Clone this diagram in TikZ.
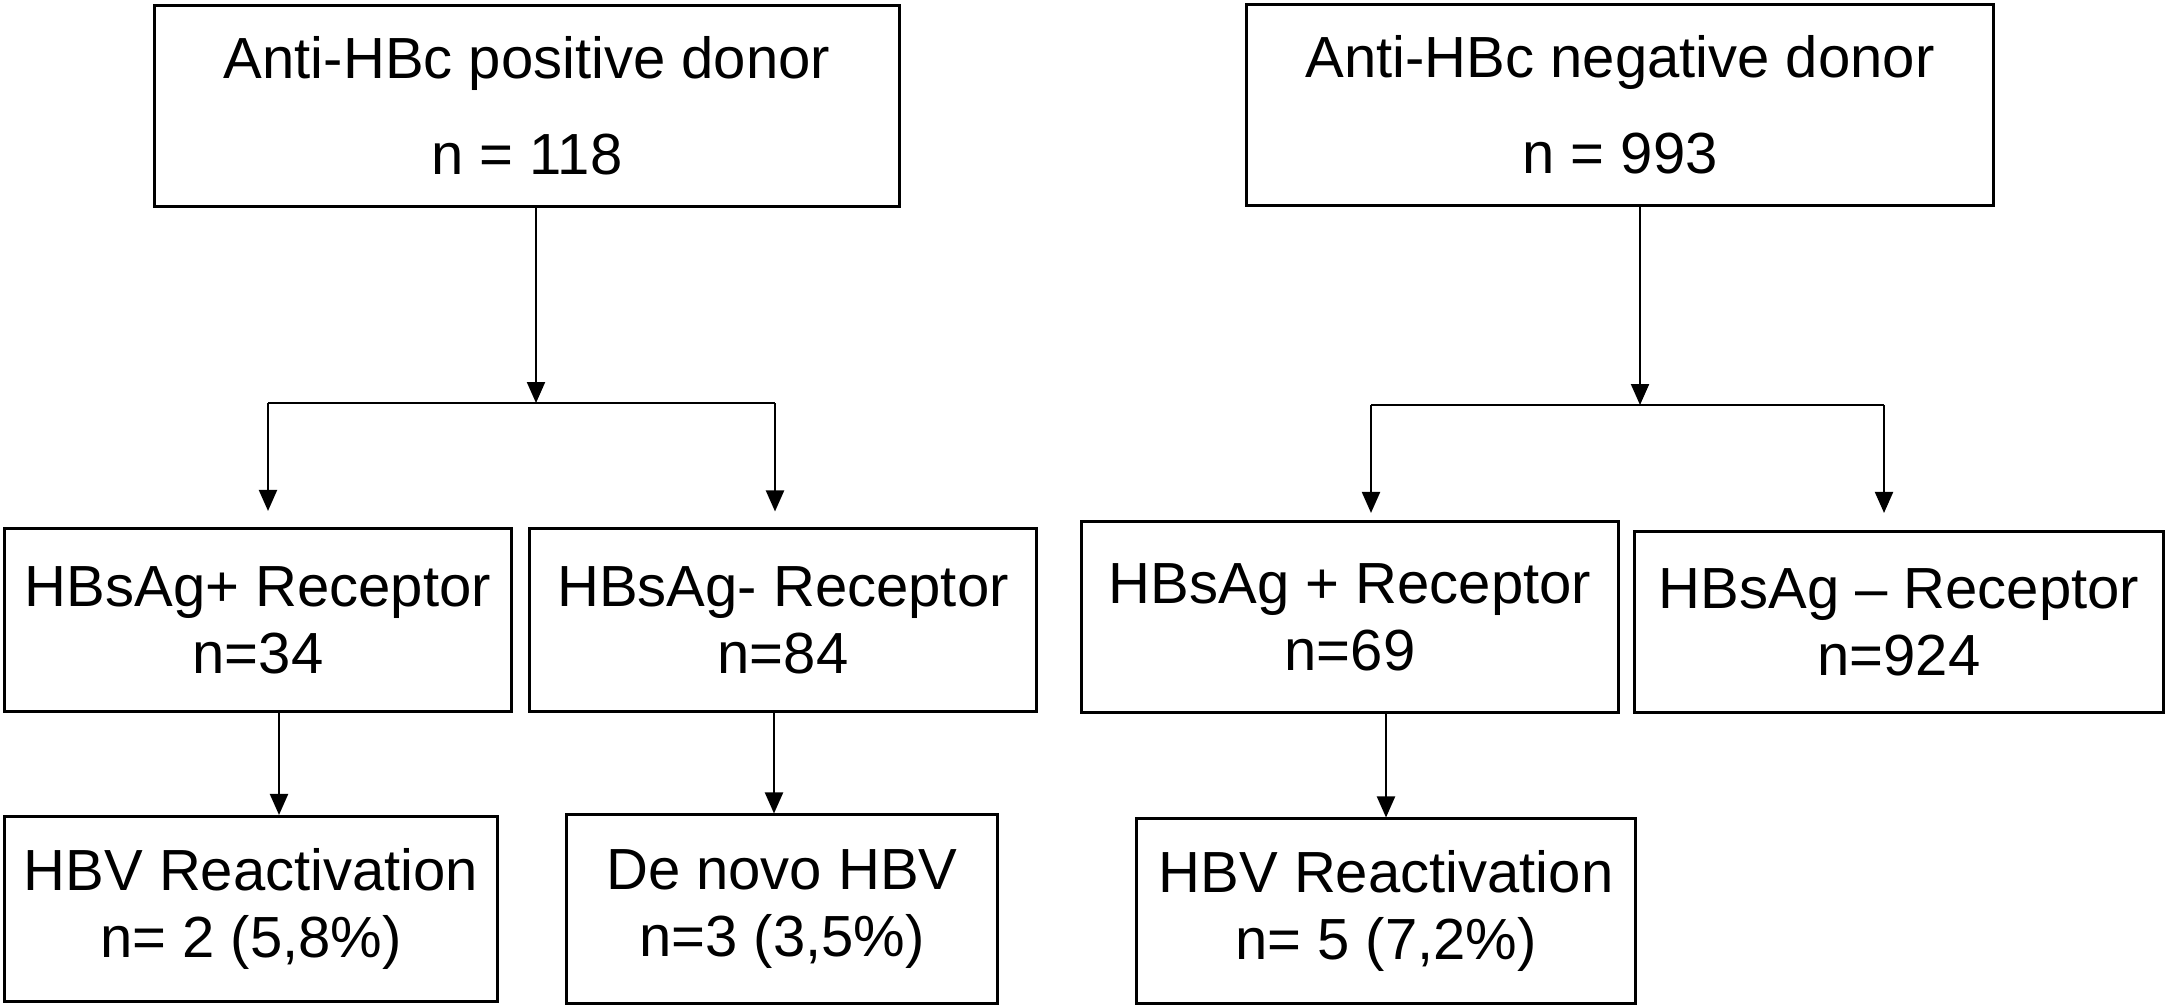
\documentclass[tikz,border=0pt]{standalone}
\usepackage{fontspec}
\setmainfont{Liberation Sans}
\usetikzlibrary{arrows.meta}

\begin{document}
\begin{tikzpicture}[x=0.01cm, y=-0.01cm,
        box/.style={draw, line width=0.85pt, inner sep=0pt, align=center,
            font=\fontsize{16.5}{19}\selectfont},
        arr/.style={line width=0.6pt, -{Triangle[length=2.1mm, width=1.8mm]}},
        bar/.style={line width=0.6pt}]
            \useasboundingbox (0,0) rectangle (2167,1005);

            % anti-HBc positive branch
            \node[box, minimum width=74.5mm, minimum height=20.1mm] (pos) at (527,106)
                {Anti-HBc positive donor\\[8.3pt] n = 118};
            \node[box, minimum width=50.6mm, minimum height=18.3mm] (rpos) at (258,620)
                {HBsAg+ Receptor\\ n=34};
            \node[box, minimum width=50.6mm, minimum height=18.2mm] (rneg) at (783,620)
                {HBsAg- Receptor\\ n=84};
            \node[box, minimum width=49.3mm, minimum height=18.5mm] (react) at (251,909)
                {HBV Reactivation\\ n= 2 (5,8\%)};
            \node[box, minimum width=43.1mm, minimum height=18.8mm] (denovo) at (782,909)
                {De novo HBV\\ n=3 (3,5\%)};

            \coordinate (jp) at (536,403);
            \coordinate (jpl) at (268,403);
            \coordinate (jpr) at (775,403);
            \draw[arr] (pos.south -| jp) -- (jp);
            \draw[bar] (jpl) -- (jpr);
            \draw[arr, shorten >=1.6mm] (jpl) -- (jpl |- rpos.north);
            \draw[arr, shorten >=1.6mm] (jpr) -- (jpr |- rneg.north);
            \draw[arr] ([xshift=2.1mm]rpos.south) -- ([xshift=2.1mm]rpos.south |- react.north);
            \draw[arr] ([xshift=-0.9mm]rneg.south) -- ([xshift=-0.9mm]rneg.south |- denovo.north);

            % anti-HBc negative branch
            \node[box, minimum width=74.7mm, minimum height=20.0mm] (neg) at (1620,105)
                {Anti-HBc negative donor\\[8.3pt] n = 993};
            \node[box, minimum width=53.7mm, minimum height=19.1mm] (rposb) at (1350,617)
                {HBsAg + Receptor\\ n=69};
            \node[box, minimum width=52.9mm, minimum height=18.1mm] (rnegb) at (1899,622)
                {HBsAg -- Receptor\\ n=924};
            \node[box, minimum width=49.8mm, minimum height=18.4mm] (reactb) at (1386,911)
                {HBV Reactivation\\ n= 5 (7,2\%)};

            \coordinate (jn) at (1640,405);
            \coordinate (jnl) at (1371,405);
            \coordinate (jnr) at (1884,405);
            \draw[arr] (neg.south -| jn) -- (jn);
            \draw[bar] (jnl) -- (jnr);
            \draw[arr, shorten >=0.7mm] (jnl) -- (jnl |- rposb.north);
            \draw[arr, shorten >=1.7mm] (jnr) -- (jnr |- rnegb.north);
            \draw[arr] (reactb.north |- rposb.south) -- (reactb.north);
        \end{tikzpicture}
\end{document}
